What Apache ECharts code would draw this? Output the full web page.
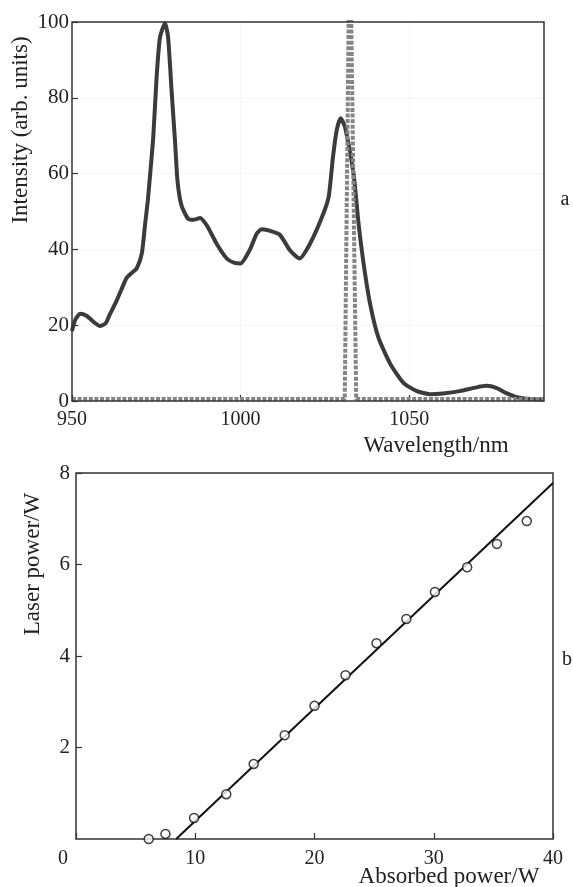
<!DOCTYPE html>
<html>
<head>
<meta charset="utf-8">
<script src="https://cdn.jsdelivr.net/npm/echarts@6/dist/echarts.min.js"></script>
<style>
html,body{margin:0;padding:0;background:#fff;}
#chart{width:573px;height:887px;}
</style>
</head>
<body>
<div id="chart"></div>
<script>
// ---- Panel a: emission spectrum ----
var wavelength = [950,951,952.4,954.3,956.5,958.3,960,961.3,963,964.7,966.2,968,969.2,970.7,971.7,972.5,973.1,974.1,975.1,976.1,977.6,978.5,979.6,980.6,981.3,982.5,984.5,986,988,990,992.9,995.9,998,1000,1002.8,1004.8,1006.3,1009,1011.7,1014.7,1017.5,1020.6,1024.1,1026.1,1027.4,1028.5,1029.7,1031,1033.5,1035,1036.5,1038.4,1040.9,1044.4,1048.3,1052.3,1056.2,1060,1065,1070,1073,1076,1079,1082,1086,1090];
var intensity = [18.5,21.5,23,22.5,20.8,19.8,20.5,23,26,29.5,32.5,34,35,38.9,46.8,53,59,69.6,85.5,96,99.7,96,81,68,58,51.5,48,47.8,48.3,46.3,41.5,37.6,36.5,36.3,40,44.2,45.3,44.8,43.8,39.7,37.6,41.5,48.4,53.7,64.3,71.4,74.6,72.2,60,46.8,36.2,25.7,16.7,9.8,4.8,2.6,1.8,2.0,2.6,3.6,4.0,3.4,2.0,1.0,0.5,0.4];
var laserWavelength = [950,1030.9,1032.4,1034.3,1090];
var laserIntensity = [0.5,0.5,130,0.5,0.5];
var xTicksA = [950,1000,1050];
var yTicksA = [0,20,40,60,80,100];

// ---- Panel b: laser power vs absorbed power ----
var absorbedPower = [6.1,7.5,9.9,12.6,14.9,17.5,20.0,22.6,25.2,27.7,30.1,32.8,35.3,37.8];
var laserPower = [0.0,0.11,0.46,0.98,1.64,2.27,2.91,3.58,4.28,4.81,5.40,5.94,6.45,6.95];
var fitAbsorbed = [8.4,40];
var fitLaser = [0,7.78];
var xTicksB = [0,10,20,30,40];
var yTicksB = [2,4,6,8];

function zip(a,b){return a.map(function(v,i){return [v,b[i]];});}

var FONT = '"Liberation Serif", "DejaVu Serif", serif';
var TXT = '#222';

var chart = echarts.init(document.getElementById('chart'), null, {renderer:'canvas'});
chart.setOption({
  backgroundColor:'#fff',
  animation:false,
  grid:[
    {left:72, top:22, width:472, height:379, show:true, borderColor:'#333', borderWidth:1.5, backgroundColor:'transparent', z:10},
    {left:76, top:473, width:477, height:366, show:true, borderColor:'#333', borderWidth:1.5, backgroundColor:'transparent'}
  ],
  xAxis:[
    {gridIndex:0, type:'value', min:950, max:1090, interval:50,
     axisLine:{show:false}, axisTick:{inside:true, length:6, lineStyle:{color:'#333', width:1.2}},
     splitLine:{show:true, showMinLine:false, showMaxLine:false, lineStyle:{color:'#ececec', type:'dotted', width:1}},
     axisLabel:{showMaxLabel:false, margin:9, color:TXT, fontFamily:FONT, fontSize:20,
       formatter:function(v){return xTicksA.indexOf(v)>=0?String(v):'';}}},
    {gridIndex:1, type:'value', min:0, max:40, interval:10,
     axisLine:{show:false}, axisTick:{inside:true, length:6, lineStyle:{color:'#333', width:1.2}},
     splitLine:{show:false},
     axisLabel:{margin:10, color:TXT, fontFamily:FONT, fontSize:20,
       formatter:function(v){
         if(xTicksB.indexOf(v)<0) return '';
         return v===0 ? '{z|0}' : String(v);
       },
       rich:{z:{fontFamily:FONT, fontSize:20, color:TXT, padding:[0,26,0,0]}}}}
  ],
  yAxis:[
    {gridIndex:0, type:'value', min:0, max:100, interval:20,
     axisLine:{show:false}, axisTick:{inside:true, length:6, lineStyle:{color:'#333', width:1.2}},
     splitLine:{show:true, showMinLine:false, showMaxLine:false, lineStyle:{color:'#ececec', type:'dotted', width:1}},
     axisLabel:{margin:3, color:TXT, fontFamily:FONT, fontSize:21,
       formatter:function(v){return yTicksA.indexOf(v)>=0?String(v):'';}}},
    {gridIndex:1, type:'value', min:0, max:8, interval:2,
     axisLine:{show:false}, axisTick:{inside:true, length:6, lineStyle:{color:'#333', width:1.2}},
     splitLine:{show:false},
     axisLabel:{showMinLabel:false, margin:6, color:TXT, fontFamily:FONT, fontSize:21,
       formatter:function(v){return yTicksB.indexOf(v)>=0?String(v):'';}}}
  ],
  series:[
    {type:'line', xAxisIndex:0, yAxisIndex:0, data:zip(wavelength,intensity),
     showSymbol:false, smooth:0.2, clip:true,
     lineStyle:{color:'#3b3b3b', width:4}, z:3},
    {type:'line', xAxisIndex:0, yAxisIndex:0, data:zip(laserWavelength,laserIntensity),
     showSymbol:false, clip:true,
     lineStyle:{color:'#858585', width:4, type:[4,1.6]}, z:4},
    {type:'line', xAxisIndex:1, yAxisIndex:1, data:zip(fitAbsorbed,fitLaser),
     showSymbol:false, clip:true,
     lineStyle:{color:'#111', width:2}, z:3},
    {type:'scatter', xAxisIndex:1, yAxisIndex:1, data:zip(absorbedPower,laserPower),
     symbol:'circle', symbolSize:9, clip:false,
     itemStyle:{color:'#fff', borderColor:'#111', borderWidth:1.5}, z:5}
  ],
  graphic:[
    {type:'text', x:21, y:130, rotation:Math.PI/2,
     style:{text:'Intensity (arb. units)', font:'23px '+FONT, fill:TXT, align:'center', verticalAlign:'middle'}},
    {type:'text', x:436, y:446,
     style:{text:'Wavelength/nm', font:'23px '+FONT, fill:TXT, align:'center', verticalAlign:'middle'}},
    {type:'text', x:565, y:200,
     style:{text:'a', font:'20px '+FONT, fill:TXT, align:'center', verticalAlign:'middle'}},
    {type:'text', x:33, y:564, rotation:Math.PI/2,
     style:{text:'Laser power/W', font:'23px '+FONT, fill:TXT, align:'center', verticalAlign:'middle'}},
    {type:'text', x:449, y:877,
     style:{text:'Absorbed power/W', font:'23px '+FONT, fill:TXT, align:'center', verticalAlign:'middle'}},
    {type:'text', x:567, y:660,
     style:{text:'b', font:'20px '+FONT, fill:TXT, align:'center', verticalAlign:'middle'}}
  ]
});
</script>
</body>
</html>
